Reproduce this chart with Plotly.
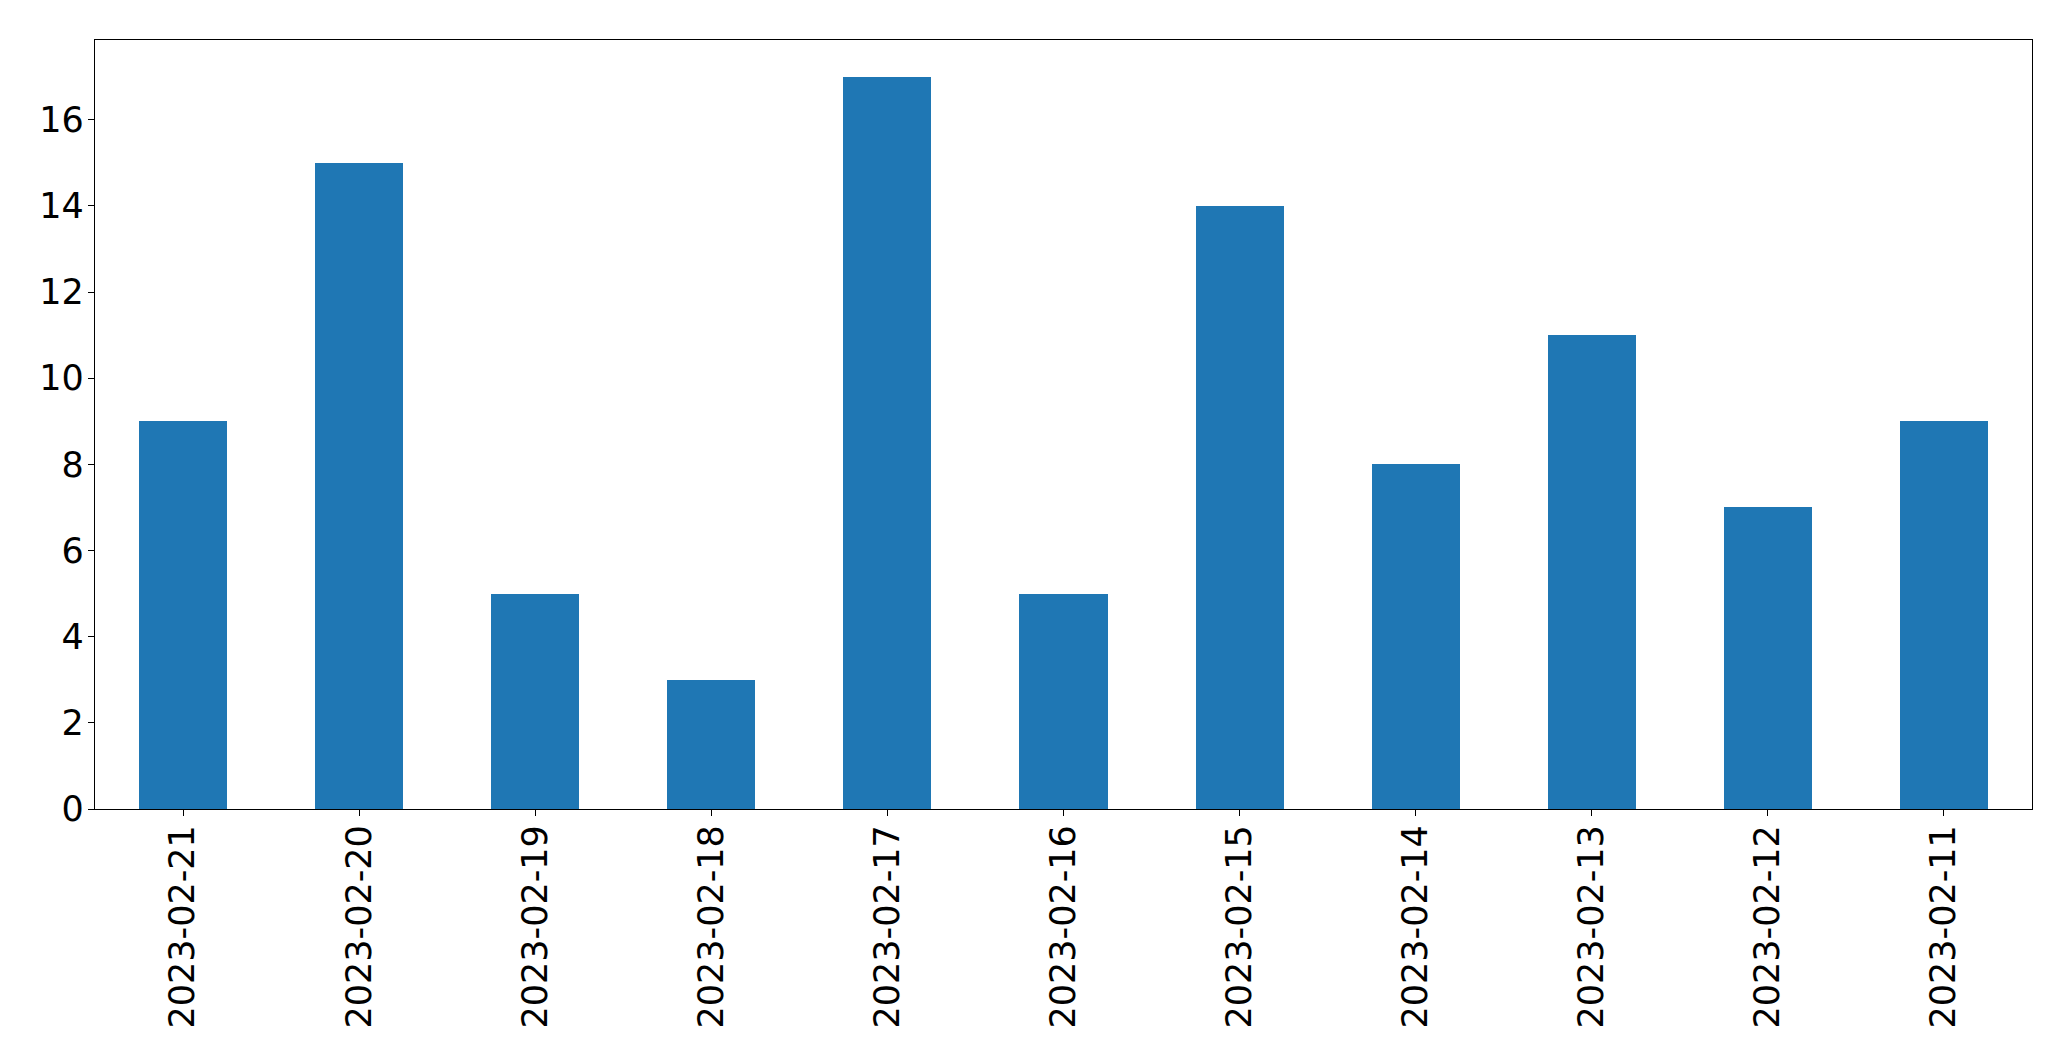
import plotly.graph_objects as go

dates = ["2023-02-21", "2023-02-20", "2023-02-19", "2023-02-18", "2023-02-17",
         "2023-02-16", "2023-02-15", "2023-02-14", "2023-02-13", "2023-02-12", "2023-02-11"]
counts = [9, 15, 5, 3, 17, 5, 14, 8, 11, 7, 9]
y_ticks = [0, 2, 4, 6, 8, 10, 12, 14, 16]

fig = go.Figure(go.Bar(x=dates, y=counts, width=0.5, marker=dict(color="#1f77b4", line=dict(width=0))))

fig.update_layout(
    width=2055, height=1045,
    margin=dict(l=87, r=31, t=32, b=244, autoexpand=False),
    paper_bgcolor="white", plot_bgcolor="white",
    font=dict(family="DejaVu Sans", size=35, color="black"),
    showlegend=False,
    bargap=0,
)
fig.update_xaxes(
    type="category", range=[-0.5, 10.5], tickangle=-90,
    showline=True, linecolor="black", linewidth=1.3, mirror=True,
    ticks="outside", ticklen=6, tickwidth=1.3, tickcolor="black",
    showgrid=False, zeroline=False, tickfont=dict(size=35),
    ticklabelstandoff=-5, automargin=False,
)
fig.update_yaxes(
    range=[0, 17.85], tickvals=y_ticks,
    showline=True, linecolor="black", linewidth=1.3, mirror=True,
    ticks="outside", ticklen=6, tickwidth=1.3, tickcolor="black",
    showgrid=False, zeroline=False, tickfont=dict(size=35),
    ticklabelstandoff=-3, automargin=False,
)

fig.write_html("out.html")
